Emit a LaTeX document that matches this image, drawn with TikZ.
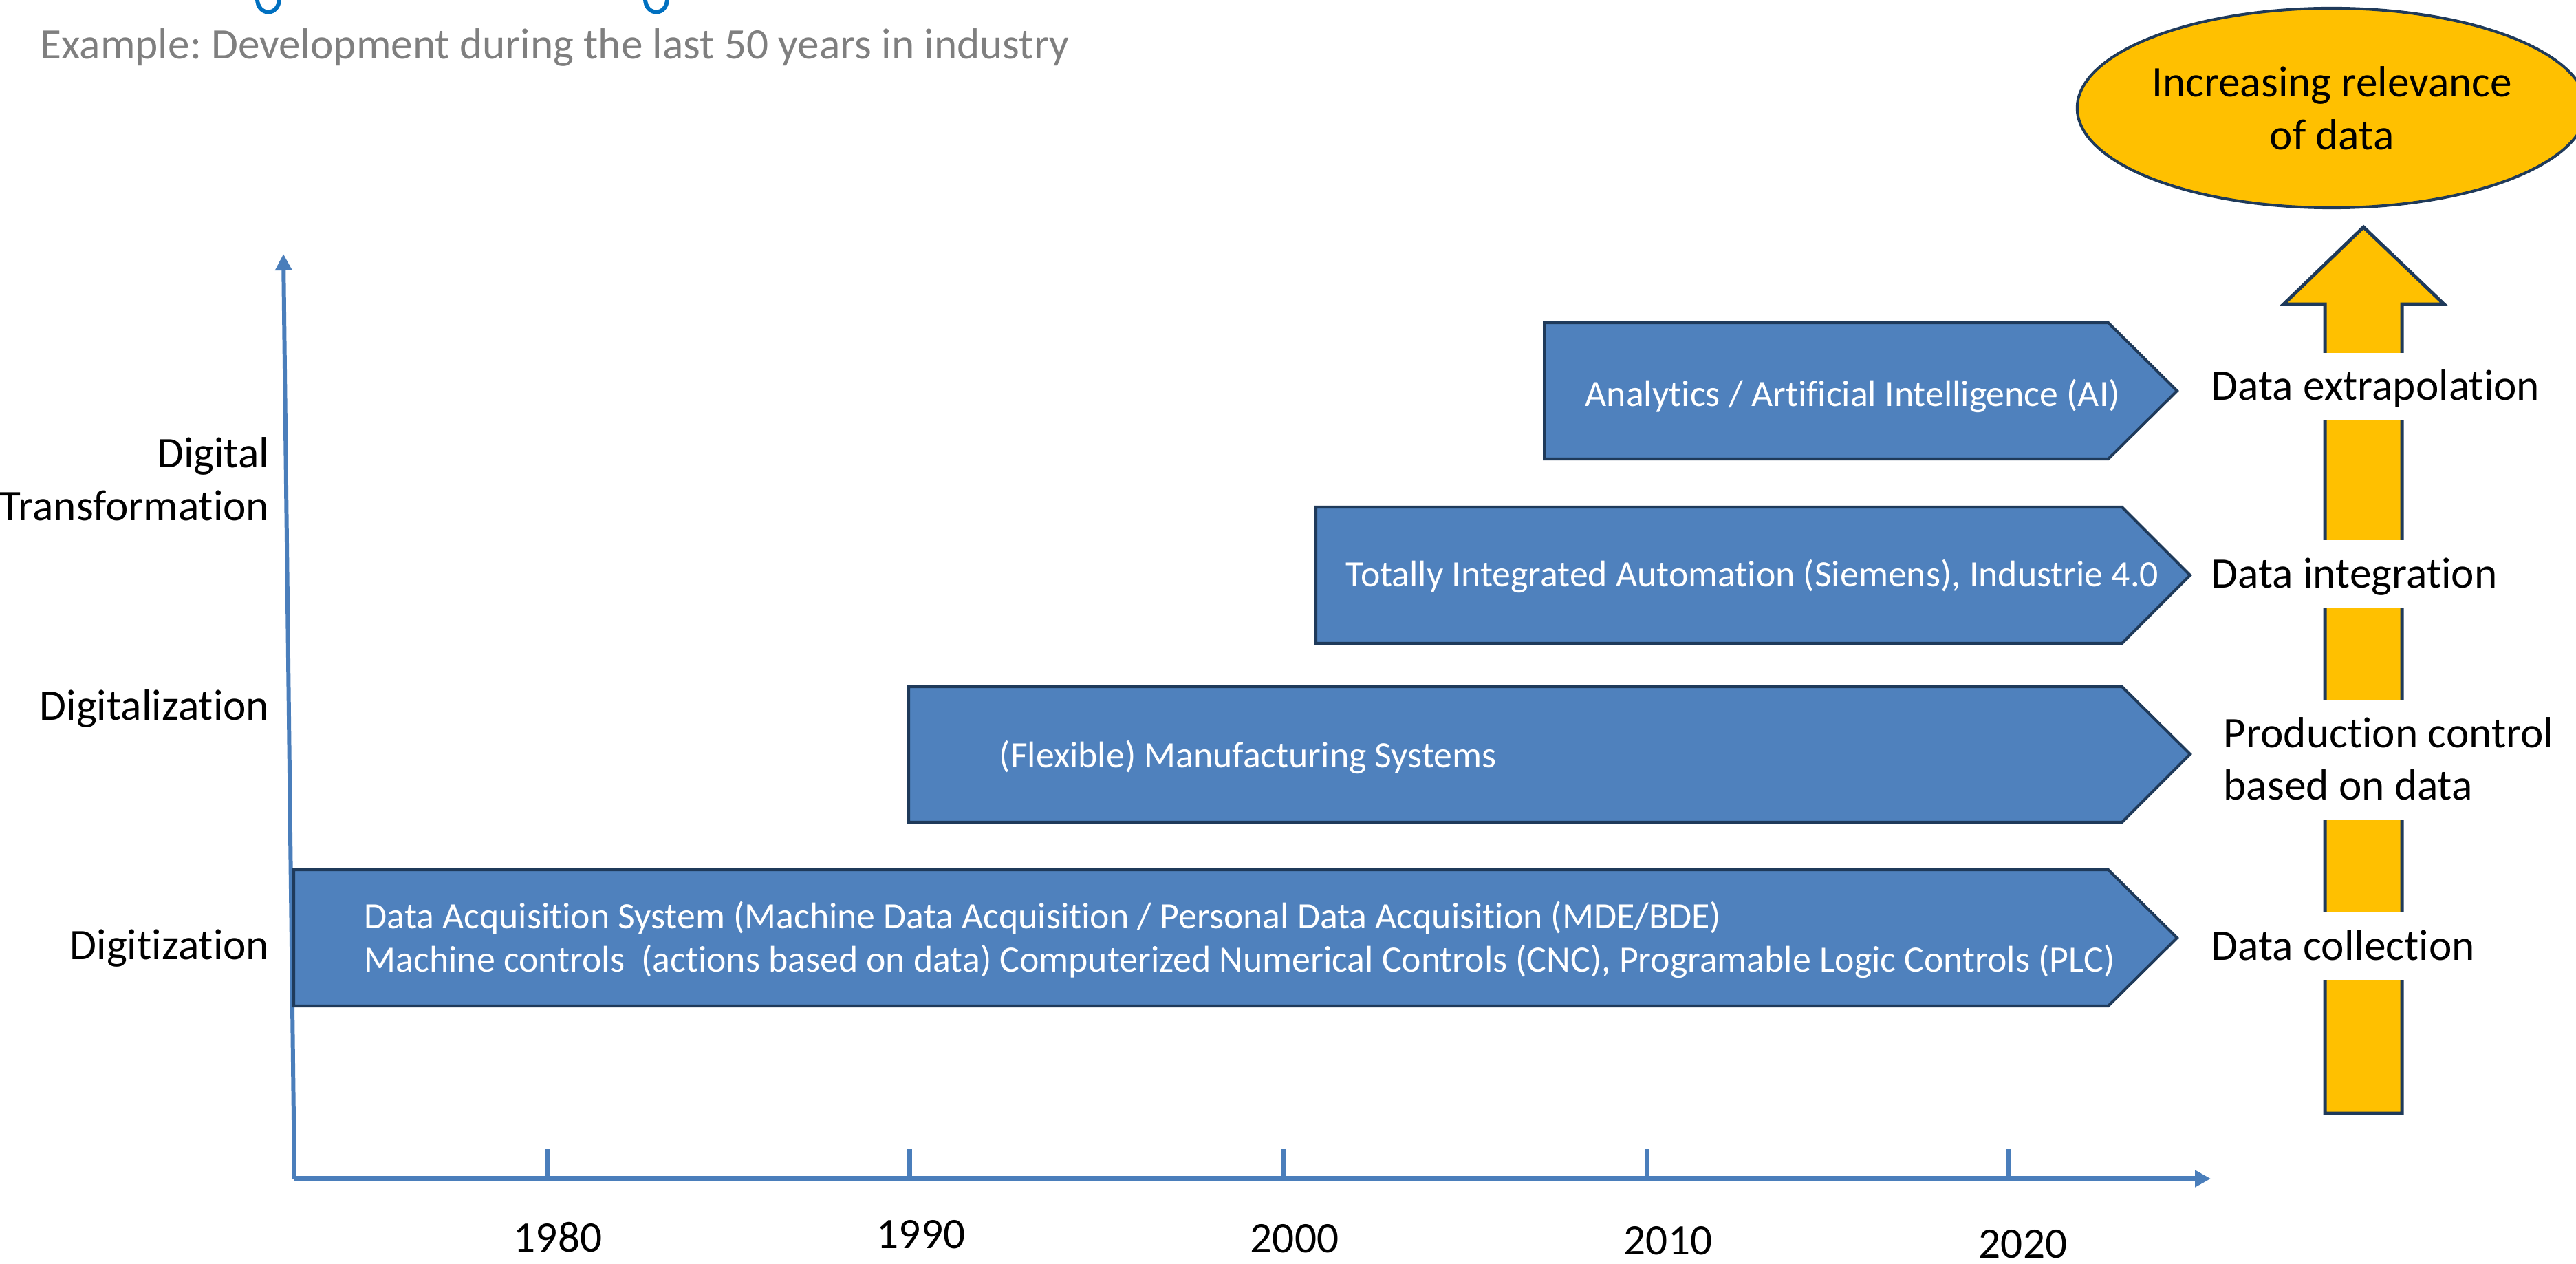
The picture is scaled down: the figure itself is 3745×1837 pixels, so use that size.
\documentclass[tikz,border=0pt]{standalone}
\usepackage{fontspec}
\setmainfont{Carlito}[Ligatures=NoCommon]
\usetikzlibrary{arrows.meta,shapes.geometric}
\definecolor{boxblue}{HTML}{4F81BD}
\definecolor{boxline}{HTML}{1F3A5A}
\definecolor{axisblue}{HTML}{4A7EBB}
\definecolor{gold}{HTML}{FFC000}
\definecolor{titleblue}{HTML}{0070C0}
\definecolor{subgrey}{HTML}{7F7F7F}
\frenchspacing
\begin{document}
\begin{tikzpicture}[x=0.01cm,y=-0.01cm,
  chev/.style={fill=boxblue,draw=boxline,line width=1.15pt,line join=miter},
  rowtext/.style={text=white,anchor=base west,inner sep=0pt,align=left,
    font=\fontsize{15.3}{18}\selectfont},
  biglbl/.style={font=\fontsize{18}{21.9}\selectfont,inner sep=0pt},
  sidelbl/.style={biglbl,fill=white,anchor=base west,inner xsep=0.1cm,inner ysep=0.05cm,
    text height=0.64cm,text depth=0.24cm,align=left},
  leftlbl/.style={biglbl,anchor=base east,align=right},
  yearlbl/.style={biglbl,anchor=base},
  axisline/.style={draw=axisblue},
  tickline/.style={draw=axisblue,line width=2pt},
  goldarrow/.style={fill=gold,draw=boxline,line width=1.4pt,line join=miter},
]
\useasboundingbox (0,0) rectangle (3745,1837);

% title fragments (descenders of the cut-off title)
\draw[titleblue,line width=1.7pt] (374,-2) .. controls (374,24) and (406,24) .. (406,-2);
\draw[titleblue,line width=1.7pt] (938,-2) .. controls (938,24) and (970,24) .. (970,-2);

% subtitle
\node[biglbl,text=subgrey,anchor=base west] (sub) at (58,86)
  {Example: Development during the last 50 years in industry};

% yellow arrow
\draw[goldarrow] (3380,1618) -- (3380,442) -- (3320,442) -- (3436,330) -- (3553,442)
  -- (3492,442) -- (3492,1618) -- cycle;

% ellipse
\node[ellipse,fill=gold,draw=boxline,line width=1.15pt,minimum width=7.04cm,
  minimum height=2.9cm,inner sep=0pt,align=center,biglbl] (rel) at (3390,157)
  {Increasing relevance\\of data};

% axes
\coordinate (O) at (428,1713);
\coordinate (ytop) at (412,369);
\coordinate (xend) at (3214,1713);
\draw[axisline,line width=1.7pt,-{Triangle[length=0.24cm,width=0.235cm]}] (O) -- (ytop);
\draw[axisline,line width=2.3pt,-{Triangle[length=0.23cm,width=0.235cm]}] (O) -- (xend);

% ticks and years
\foreach \tx/\lx/\ly/\yr in {796/811/1819/1980,1322/1339/1814/1990,1866/1882/1820/2000,2394/2425/1823/2010,2920/2941/1828/2020}{
  \coordinate (t\yr) at (\tx,1670);
  \coordinate (b\yr) at (\tx,1713);
  \draw[tickline] (b\yr) -- (t\yr);
  \node[yearlbl] (y\yr) at (\lx,\ly) {\yr};
}

% chevrons
\draw[chev] (2245,469) -- (3065,469) -- (3165,568) -- (3065,667) -- (2245,667) -- cycle;
\draw[chev] (1913,737) -- (3085,737) -- (3184,836) -- (3085,935) -- (1913,935) -- cycle;
\draw[chev] (1321,998) -- (3085,998) -- (3184,1096) -- (3085,1195) -- (1321,1195) -- cycle;
\draw[chev] (427,1264) -- (3065,1264) -- (3165,1363) -- (3065,1462) -- (427,1462) -- cycle;

% chevron texts
\node[rowtext] (r1) at (2304,591) {Analytics / Artificial Intelligence (AI)};
\node[rowtext] (r2) at (1956,853) {Totally Integrated Automation (Siemens), Industrie 4.0};
\node[rowtext] (r3) at (1452,1115) {(Flexible) Manufacturing Systems};
\node[rowtext] (r4a) at (529,1349) {Data Acquisition System (Machine Data Acquisition / Personal Data Acquisition (MDE/BDE)};
\node[rowtext] (r4b) at (529,1412) {Machine controls\ \ (actions based on data) Computerized Numerical Controls (CNC), Programable Logic Controls (PLC)};

% right labels
\node[sidelbl] (l1) at (3204,582) {Data extrapolation};
\node[sidelbl] (l2) at (3204,854) {Data integration};
\node[sidelbl,text height=1.40cm,font=\fontsize{18}{21.6}\selectfont] (l3) at (3222,1162) {Production control\\based on data};
\node[sidelbl] (l4) at (3204,1395) {Data collection};

% left labels
\node[leftlbl] (d1) at (392,757) {Digital\\Transformation};
\node[leftlbl] (d2) at (392,1046) {Digitalization};
\node[leftlbl] (d3) at (392,1394) {Digitization};
\end{tikzpicture}
\end{document}
